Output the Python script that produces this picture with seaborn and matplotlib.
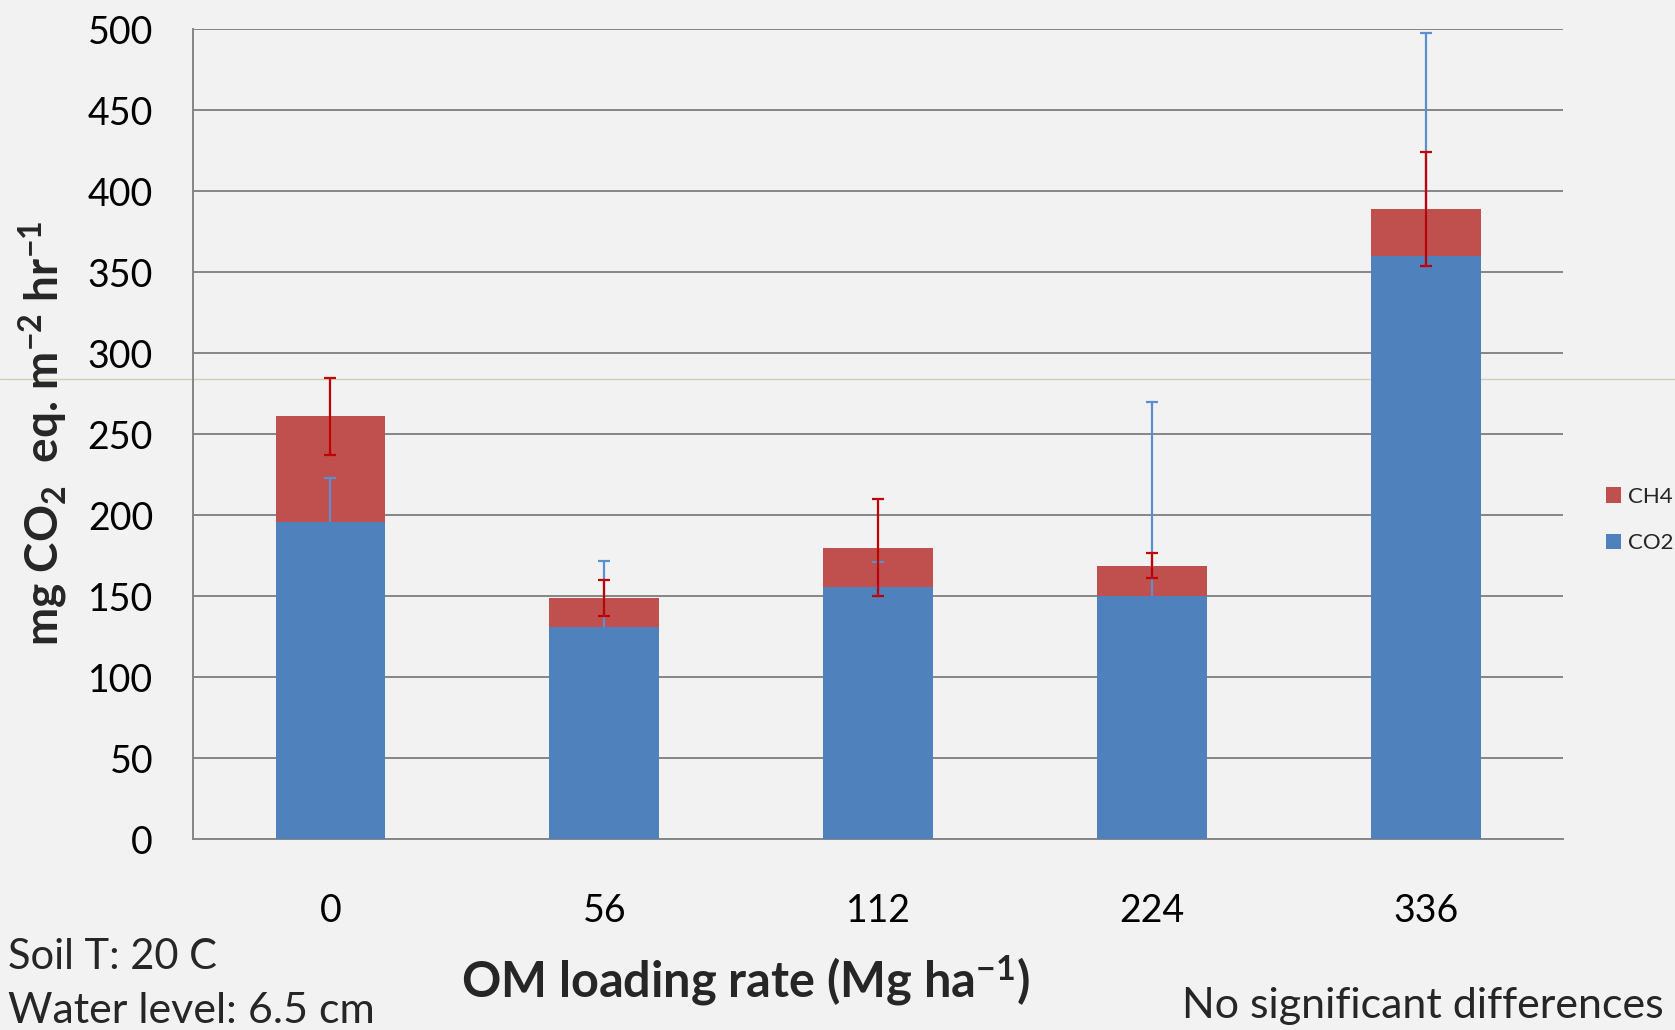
import numpy as np
import pandas as pd
import matplotlib
matplotlib.use("Agg")
import matplotlib.pyplot as plt
from matplotlib.patches import Patch
from matplotlib.lines import Line2D
import seaborn as sns

# OM loading rates (Mg ha-1) and emissions (mg CO2 eq. m-2 hr-1)
categories = ["0", "56", "112", "224", "336"]
co2 = [196, 131, 156, 150, 360]
ch4 = [65, 18, 24, 19, 29]
co2_err = [27, 41, 15, 120, 138]
ch4_err = [24, 11, 30, 8, 35]
yticks = [0, 50, 100, 150, 200, 250, 300, 350, 400, 450, 500]

BLUE = "#4F81BD"
RED = "#C0504D"
BLUE_ERR = "#5B8FD0"
RED_ERR = "#C00000"
GRID = "#868686"
BG = "#F2F2F2"

sns.set_theme(style="white")
plt.rcParams["font.family"] = ["Lato", "DejaVu Sans"]
plt.rcParams["mathtext.fontset"] = "custom"
plt.rcParams["mathtext.rm"] = "Lato"
plt.rcParams["mathtext.bf"] = "Lato:bold"
plt.rcParams["mathtext.it"] = "Lato:italic"

df = pd.DataFrame({"rate": categories, "CO2": co2, "CH4": ch4})
df["total"] = df["CO2"] + df["CH4"]

fig = plt.figure(figsize=(16.75, 10.30), dpi=100, facecolor=BG)
ax = fig.add_axes([0.11546, 0.18515, 0.81767, 0.7864])
ax.set_facecolor("none")

# faint rule running across the figure behind the plot
fig.add_artist(Line2D([0, 1], [1 - 379 / 1030] * 2, transform=fig.transFigure,
                      color="#d0d0b8", lw=1.0, zorder=-1))

# stacked bars: total (CH4 on top) first, CO2 over it
sns.barplot(data=df, x="rate", y="total", color=RED, width=0.4, saturation=1,
            errorbar=None, edgecolor="none", linewidth=0, ax=ax, zorder=3)
xpos = np.arange(len(categories))
# CO2 error bars sit between the two layers so the CO2 bar hides the lower half
ax.errorbar(xpos, df["CO2"], yerr=co2_err, fmt="none", ecolor=BLUE_ERR,
            elinewidth=1.6, capsize=4.3, capthick=1.6, zorder=3.5)
sns.barplot(data=df, x="rate", y="CO2", color=BLUE, width=0.4, saturation=1,
            errorbar=None, edgecolor="none", linewidth=0, ax=ax, zorder=4)
ax.errorbar(xpos, df["total"], yerr=ch4_err, fmt="none", ecolor=RED_ERR,
            elinewidth=1.6, capsize=4.3, capthick=1.6, zorder=5)

ax.set_ylim(0, 500)
ax.set_xlim(-0.5, len(categories) - 0.5)
ax.set_yticks(yticks)
ax.yaxis.grid(True, color=GRID, lw=1.4)
ax.xaxis.grid(False)
ax.set_axisbelow(True)

for side in ["top", "right"]:
    ax.spines[side].set_visible(False)
for side in ["left", "bottom"]:
    ax.spines[side].set_color(GRID)
    ax.spines[side].set_linewidth(1.4)

ax.tick_params(axis="y", which="major", length=10, width=1.4, color=GRID,
               labelsize=27, pad=19, labelcolor="black")
ax.set_xticks(xpos)
ax.set_xticklabels(categories)
ax.set_xticks(np.arange(-0.5, len(categories), 1), minor=True)
ax.tick_params(axis="x", which="major", length=0, labelsize=27, pad=39,
               labelcolor="black")
ax.tick_params(axis="x", which="minor", length=9.4, width=1.4, color=GRID)
ax.set_xlabel("")
ax.set_ylabel("")

fig.text(0.0257, 1 - 433 / 1030,
         r"mg CO$_{\mathbf{2}}$  eq. m$^{\mathbf{-2}}$ hr$^{\mathbf{-1}}$",
         rotation=90, ha="center", va="center", fontsize=33, fontweight="bold")
fig.text(745 / 1675, 1 - 997 / 1030,
         r"OM loading rate (Mg ha$^{\mathbf{-1}}$)",
         ha="center", va="baseline", fontsize=35, fontweight="bold")

fig.text(7.5 / 1675, 1 - 969 / 1030, "Soil T: 20 C", ha="left", va="baseline",
         fontsize=30)
fig.text(7.5 / 1675, 1 - 1023 / 1030, "Water level: 6.5 cm", ha="left",
         va="baseline", fontsize=31)
fig.text(1664 / 1675, 1 - 1018 / 1030, "No significant differences",
         ha="right", va="baseline", fontsize=31)

handles = [Patch(facecolor=RED, edgecolor="none", label="CH4"),
           Patch(facecolor=BLUE, edgecolor="none", label="CO2")]
ax.legend(handles=handles, loc="center left",
          bbox_to_anchor=(1606 / 1675, 1 - 520 / 1030),
          bbox_transform=fig.transFigure, frameon=False, fontsize=16,
          handlelength=0.68, handleheight=0.68, handletextpad=0.3,
          labelspacing=1.2, borderpad=0, borderaxespad=0)

fig.savefig("out.png", dpi=100, facecolor=BG)
